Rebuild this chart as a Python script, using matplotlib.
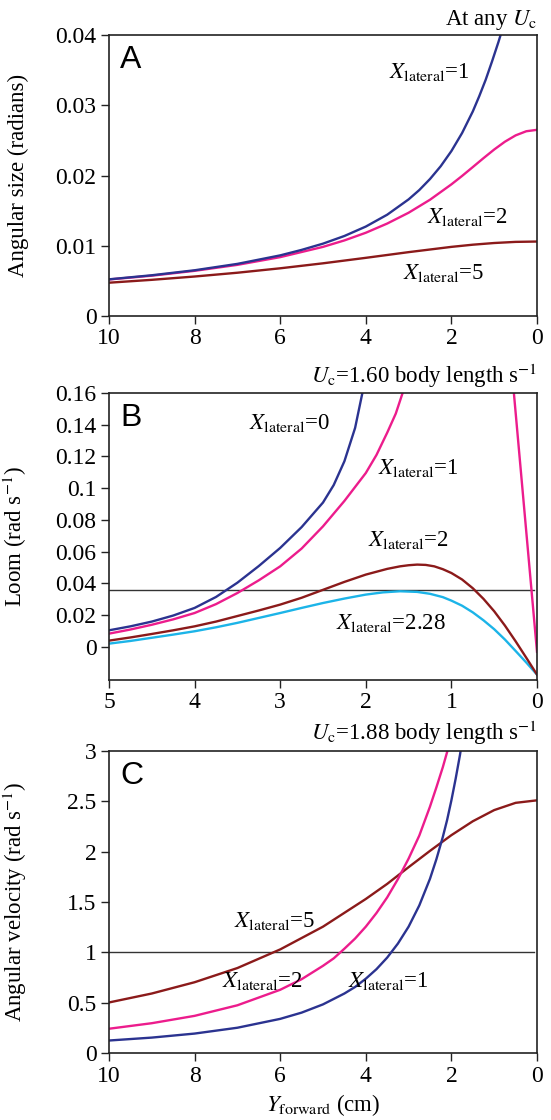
"""Angular size / loom / angular velocity vs forward distance, three stacked panels."""

import numpy as np
import matplotlib
matplotlib.use("Agg")
import matplotlib.pyplot as plt
from matplotlib.ticker import FuncFormatter

plt.rcParams["font.family"] = "serif"
plt.rcParams["font.serif"] = ["Liberation Serif", "DejaVu Serif"]
plt.rcParams["mathtext.fontset"] = "stix"

NAVY = "#2b3390"
PINK = "#ec1c8c"
BROWN = "#8b1a1a"
CYAN = "#1cb4e8"

# ---- panel A: angular size (radians), at any Uc
a_x1 = [10, 9, 8, 7, 6, 5.5, 5, 4.5, 4, 3.5, 3, 2.75, 2.5, 2.25, 2, 1.75,
        1.5, 1.35, 1.2, 1.05, 0.9, 0.8, 0.7]
a_lat1 = [0.00522, 0.0058, 0.00651, 0.00742, 0.00863, 0.00941, 0.0103,
          0.01139, 0.01273, 0.01442, 0.0166, 0.01793, 0.0195, 0.02132,
          0.02348, 0.02605, 0.02912, 0.03128, 0.03361, 0.03625, 0.03902,
          0.041, 0.043]
a_x2 = [10, 9, 8, 7, 6, 5, 4.5, 4, 3.5, 3, 2.5, 2, 1.75, 1.5, 1.25, 1,
        0.75, 0.5, 0.25, 0]
a_lat2 = [0.0052, 0.00574, 0.00643, 0.00728, 0.00838, 0.00984, 0.01076,
          0.01185, 0.01316, 0.0147, 0.01655, 0.01874, 0.01994, 0.0212,
          0.02247, 0.0237, 0.02481, 0.02571, 0.0263, 0.0265]
a_x5 = [10, 9, 8, 7, 6, 5, 4, 3, 2, 1.5, 1, 0.5, 0]
a_lat5 = [0.00474, 0.00515, 0.00562, 0.00616, 0.00679, 0.0075, 0.00828,
          0.00909, 0.00984, 0.01015, 0.01039, 0.01055, 0.0106]

# ---- panel B: loom (rad s^-1), Uc = 1.60 body length s^-1
b_x0 = [5, 4.75, 4.5, 4.25, 4, 3.75, 3.5, 3.25, 3, 2.75, 2.5, 2.375, 2.25,
        2.125, 2.04, 2.0]
b_lat0 = [0.0105, 0.013, 0.016, 0.0198, 0.0246, 0.0315, 0.0405, 0.051,
          0.0624, 0.0755, 0.091, 0.102, 0.117, 0.138, 0.16, 0.172]
b_x1 = [5, 4.75, 4.5, 4.25, 4, 3.75, 3.5, 3.25, 3, 2.75, 2.5, 2.25, 2,
        1.875, 1.75, 1.65, 1.57, 1.5, 1.0, 0.29, 0]
b_lat1 = [0.0084, 0.011, 0.014, 0.0174, 0.0214, 0.027, 0.034, 0.042, 0.0508,
          0.062, 0.076, 0.092, 0.1096, 0.121, 0.135, 0.147, 0.16, 0.172,
          np.nan, 0.172, -0.003]
b_x2 = [5, 4.75, 4.5, 4.25, 4, 3.75, 3.5, 3.25, 3, 2.75, 2.5, 2.25, 2, 1.75,
        1.6, 1.5, 1.4, 1.3, 1.2, 1.1, 1, 0.875, 0.75, 0.625, 0.5, 0.375,
        0.25, 0.125, 0]
b_lat2 = [0.004, 0.006, 0.0082, 0.0105, 0.013, 0.016, 0.0195, 0.023, 0.0267,
          0.031, 0.036, 0.041, 0.0456, 0.0492, 0.0508, 0.0515, 0.0519,
          0.0517, 0.0508, 0.049, 0.0466, 0.0425, 0.037, 0.0303, 0.0225,
          0.0135, 0.0036, -0.0068, -0.0174]
b_x228 = [5, 4.75, 4.5, 4.25, 4, 3.75, 3.5, 3.25, 3, 2.75, 2.5, 2.25, 2,
          1.8, 1.6, 1.4, 1.25, 1.1, 1, 0.875, 0.75, 0.625, 0.5, 0.375, 0.25,
          0.125, 0]
b_lat228 = [0.0021, 0.0038, 0.0058, 0.0078, 0.0099, 0.0124, 0.0152, 0.0183,
            0.0214, 0.0246, 0.0277, 0.0305, 0.033, 0.0344, 0.0351, 0.0347,
            0.0335, 0.0314, 0.0292, 0.026, 0.0218, 0.0168, 0.0112, 0.0047,
            -0.0025, -0.0098, -0.0174]
b_threshold = 0.036

# ---- panel C: angular velocity (rad s^-1), Uc = 1.88 body length s^-1
c_x1 = [10, 9, 8, 7, 6, 5.5, 5, 4.5, 4.25, 4, 3.75, 3.5, 3.25, 3, 2.75, 2.5,
        2.35, 2.2, 2.1, 2, 1.9, 1.8, 1.7]
c_lat1 = [0.124, 0.153, 0.193, 0.251, 0.339, 0.401, 0.483, 0.591, 0.656,
          0.738, 0.833, 0.948, 1.087, 1.255, 1.466, 1.731, 1.926, 2.147,
          2.315, 2.51, 2.726, 2.96, 3.23]
c_x2 = [10, 9, 8, 7, 6, 5.5, 5, 4.75, 4.5, 4.25, 4, 3.75, 3.5, 3.25, 3, 2.75,
        2.5, 2.35, 2.2, 2.1, 2.0]
c_lat2 = [0.241, 0.296, 0.369, 0.474, 0.628, 0.733, 0.866, 0.94, 1.036,
          1.137, 1.255, 1.391, 1.546, 1.727, 1.931, 2.16, 2.448, 2.64, 2.84,
          2.99, 3.14]
c_x5 = [10, 9, 8, 7, 6, 5, 4, 3.5, 3, 2.5, 2, 1.5, 1, 0.5, 0]
c_lat5 = [0.502, 0.591, 0.703, 0.844, 1.029, 1.255, 1.53, 1.68, 1.846, 2.008,
          2.164, 2.302, 2.413, 2.485, 2.51]
c_threshold = 1.0

W, H = 551, 1120
FS = 16.5
LW = 1.7


def lat(v):
    return r"$X_{\mathrm{lateral}}$=" + v


def make_ax(fig, top, bottom, left=109, right=537):
    return fig.add_axes([left / W, 1 - bottom / H, (right - left) / W,
                         (bottom - top) / H])


def style(ax, letter, title, ylabel, xlim, ylim, xticks, yticks, h):
    ax.set_xlim(*xlim)
    ax.set_ylim(*ylim)
    ax.set_xticks(xticks)
    ax.set_yticks(yticks)
    fmt = FuncFormatter(lambda v, p: "%g" % v)
    ax.xaxis.set_major_formatter(fmt)
    ax.yaxis.set_major_formatter(fmt)
    ax.tick_params(direction="out", length=6, width=1, labelsize=17,
                   pad=3, color="#222222")
    for s in ax.spines.values():
        s.set_linewidth(1.2)
        s.set_color("#222222")
    ax.set_ylabel(ylabel, fontsize=FS)
    ax.yaxis.set_label_coords(-80 / 428, 0.5)
    ax.text(11 / 428, 1 - 10 / h, letter, transform=ax.transAxes,
            ha="left", va="top", fontsize=23, family="Liberation Sans")
    ax.text(1.0, 1.012, title, transform=ax.transAxes, ha="right",
            va="bottom", fontsize=FS)


fig = plt.figure(figsize=(W / 100, H / 100), dpi=100)

# panel A
axA = make_ax(fig, 35, 316)
axA.plot(a_x5, a_lat5, color=BROWN, lw=LW)
axA.plot(a_x2, a_lat2, color=PINK, lw=LW)
axA.plot(a_x1, a_lat1, color=NAVY, lw=LW)
style(axA, "A", r"At any $U_{\mathrm{c}}$", "Angular size (radians)",
      (10, 0), (0, 0.04), [10, 8, 6, 4, 2, 0],
      [0, 0.01, 0.02, 0.03, 0.04], 281)
axA.text(3.46, 0.0347, lat("1"), fontsize=FS, va="center")
axA.text(2.57, 0.0141, lat("2"), fontsize=FS, va="center")
axA.text(3.13, 0.0061, lat("5"), fontsize=FS, va="center")

# panel B
axB = make_ax(fig, 393, 680)
axB.axhline(b_threshold, color="#333333", lw=1.0, xmin=0, xmax=0.992)
axB.plot(b_x228, b_lat228, color=CYAN, lw=LW)
axB.plot(b_x2, b_lat2, color=BROWN, lw=LW)
axB.plot(b_x1, b_lat1, color=PINK, lw=LW)
axB.plot(b_x0, b_lat0, color=NAVY, lw=LW)
style(axB, "B", r"$U_{\mathrm{c}}$=1.60 body length s$^{-1}$",
      r"Loom (rad s$^{-1}$)", (5, 0), (-0.0208, 0.16), [5, 4, 3, 2, 1, 0],
      [0, 0.02, 0.04, 0.06, 0.08, 0.1, 0.12, 0.14, 0.16], 287)
axB.text(3.36, 0.141, lat("0"), fontsize=FS, va="center")
axB.text(1.86, 0.1128, lat("1"), fontsize=FS, va="center")
axB.text(1.98, 0.0674, lat("2"), fontsize=FS, va="center")
axB.text(2.35, 0.0151, lat("2.28"), fontsize=FS, va="center")

# panel C
axC = make_ax(fig, 751, 1053)
axC.axhline(c_threshold, color="#333333", lw=1.0, xmin=0, xmax=0.992)
axC.plot(c_x5, c_lat5, color=BROWN, lw=LW)
axC.plot(c_x2, c_lat2, color=PINK, lw=LW)
axC.plot(c_x1, c_lat1, color=NAVY, lw=LW)
style(axC, "C", r"$U_{\mathrm{c}}$=1.88 body length s$^{-1}$",
      r"Angular velocity (rad s$^{-1}$)", (10, 0), (0, 3),
      [10, 8, 6, 4, 2, 0], [0, 0.5, 1, 1.5, 2, 2.5, 3], 302)
axC.text(7.08, 1.31, lat("5"), fontsize=FS, va="center")
axC.text(7.36, 0.72, lat("2"), fontsize=FS, va="center")
axC.text(4.42, 0.72, lat("1"), fontsize=FS, va="center")
axC.set_xlabel(r"$Y_{\mathrm{forward}}$ (cm)", fontsize=FS, labelpad=4)

fig.savefig("out.png", dpi=100)
